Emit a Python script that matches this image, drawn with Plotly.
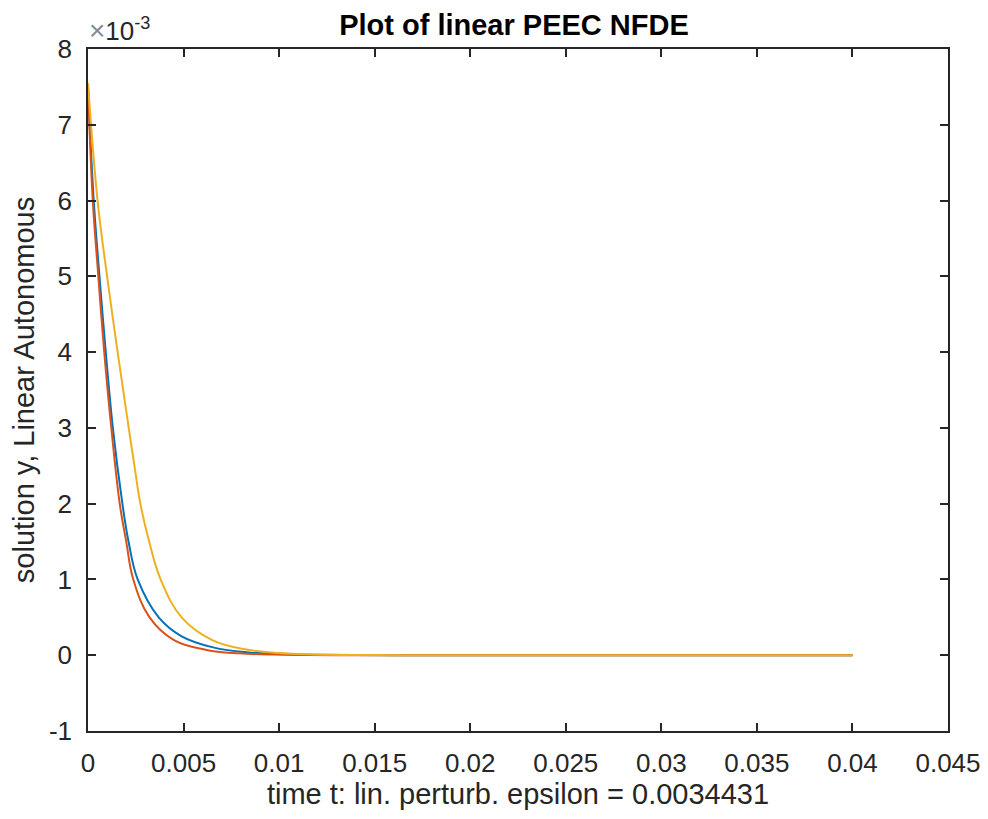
import plotly.graph_objects as go

# time samples (s) and solution values (units of 1e-3)
t_blue = [0, 0.00030, 0.00060, 0.00093, 0.00130, 0.00180, 0.00212, 0.00260, 0.00370, 0.00490, 0.00660, 0.00830, 0.0100, 0.0120, 0.0160, 0.0200, 0.0300, 0.0400]
y_blue = [7.50, 6.00, 5.00, 4.00, 3.00, 2.00, 1.50, 1.00, 0.50, 0.25, 0.10, 0.04, 0.015, 0.005, 0.0, 0.0, 0.0, 0.0]

t_red = [0, 0.00025, 0.00054, 0.00085, 0.00122, 0.00166, 0.00200, 0.00237, 0.00322, 0.00450, 0.00620, 0.00790, 0.0097, 0.0140, 0.0200, 0.0300, 0.0400]
y_red = [7.50, 6.00, 5.00, 4.00, 3.00, 2.00, 1.50, 1.00, 0.50, 0.20, 0.07, 0.025, 0.008, 0.0, 0.0, 0.0, 0.0]

t_yellow = [0, 0.00050, 0.00100, 0.00155, 0.00213, 0.00243, 0.00274, 0.00320, 0.00380, 0.00490, 0.00650, 0.00830, 0.0100, 0.0118, 0.0150, 0.0200, 0.0300, 0.0400]
y_yellow = [7.55, 6.00, 5.00, 4.00, 3.00, 2.50, 2.00, 1.50, 1.00, 0.50, 0.20, 0.075, 0.028, 0.01, 0.002, 0.0, 0.0, 0.0]

x_ticks = [0, 0.005, 0.01, 0.015, 0.02, 0.025, 0.03, 0.035, 0.04, 0.045]
x_tick_labels = ["0", "0.005", "0.01", "0.015", "0.02", "0.025", "0.03", "0.035", "0.04", "0.045"]
y_ticks_e3 = [-1, 0, 1, 2, 3, 4, 5, 6, 7, 8]
y_tick_labels = ["-1", "0", "1", "2", "3", "4", "5", "6", "7", "8"]

SCALE = 1e-3
TXT = "#262626"
FONT = "Liberation Sans, Arial, Helvetica, sans-serif"

fig = go.Figure()
for t, y, c in [(t_blue, y_blue, "#0072BD"), (t_red, y_red, "#D95319"), (t_yellow, y_yellow, "#EDB120")]:
    fig.add_trace(go.Scatter(
        x=t, y=[v * SCALE for v in y], mode="lines",
        line=dict(color=c, width=2, shape="spline", smoothing=1.1),
        showlegend=False, hoverinfo="skip"))

axis_common = dict(
    showgrid=False, zeroline=False, showline=True, linecolor=TXT, linewidth=1.5,
    mirror="ticks", ticks="inside", ticklen=8, tickwidth=1.5, tickcolor=TXT,
    tickfont=dict(family=FONT, size=26, color=TXT), automargin=False,
)

# page body has an 8px default margin, so the figure is 8px smaller and offset
fig.update_layout(
    width=980, height=811,
    paper_bgcolor="white", plot_bgcolor="white",
    margin=dict(l=80, r=40, t=41, b=88),
    title=dict(text="<b>Plot of linear PEEC NFDE</b>", x=0.5163, xanchor="center",
               y=0.979, yanchor="middle",
               font=dict(family=FONT, size=29, color="black")),
    xaxis=dict(range=[0, 0.045], tickvals=x_ticks, ticktext=x_tick_labels,
               title=dict(text="time t: lin. perturb. epsilon = 0.0034431",
                          font=dict(family=FONT, size=29, color=TXT), standoff=6),
               ticklabelstandoff=8, **axis_common),
    yaxis=dict(range=[-1 * SCALE, 8 * SCALE], tickvals=[v * SCALE for v in y_ticks_e3],
               ticktext=y_tick_labels,
               title=dict(text="solution y, Linear Autonomous",
                          font=dict(family=FONT, size=29, color=TXT), standoff=10),
               ticklabelstandoff=9, **axis_common),
    annotations=[dict(text="<span style='color:#8a8a8a;font-size:28px'>×</span>10<sup>-3</sup>",
                      xref="paper", yref="paper", x=0, y=1, xanchor="left", yanchor="bottom",
                      xshift=-1, yshift=1, showarrow=False,
                      font=dict(family=FONT, size=26, color=TXT))],
)

fig.write_html("out.html")
